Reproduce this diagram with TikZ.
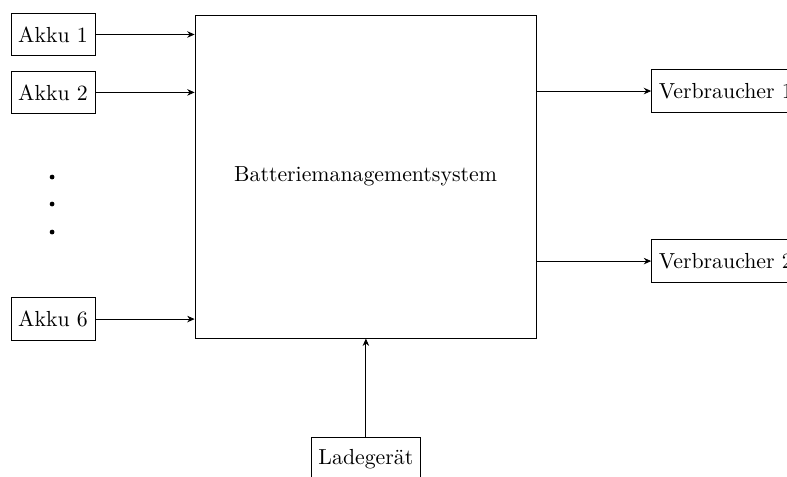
\documentclass[tikz,border=0pt]{standalone}
\usepackage{tikz}
\usetikzlibrary{arrows.meta, positioning}
\definecolor{diagInk}{RGB}{0,0,0}
\tikzset{
  % plain rectangular box, as used for batteries, loads and charger
  box/.style={
    draw=diagInk, rectangle, line width=0.4pt,
    align=center, inner sep=3.3pt,
    font=\normalsize, text=diagInk, minimum height=6.9mm
  },
  % the large central block
  core/.style={box, minimum width=55mm, minimum height=52.1mm},
  % arrows
  flow/.style={-{Stealth[length=3.4pt,width=3pt]}, draw=diagInk, line width=0.4pt},
  % the dots standing for the batteries left out
  gap/.style={fill=diagInk},
}

\begin{document}
\begin{tikzpicture}

\useasboundingbox (0,0) rectangle (12.69,-7.69);

% ============================ central block ================================
\node[core] (bms) at (5.895,-2.847) {Batteriemanagementsystem};

% ============================== batteries ==================================
\node[box] (akku1) at (0.855,-0.556) {Akku 1};
\node[box, below=2.3mm of akku1] (akku2) {Akku 2};
\node[box] (akku6) at (0.855,-5.145) {Akku 6};

\foreach \y in {-2.855,-3.29,-3.742}
  \fill[gap] (0.84,\y) circle (1.1pt);

\draw[flow] (akku1) -- (akku1 -| bms.west);
\draw[flow] (akku2) -- (akku2 -| bms.west);
\draw[flow] (akku6) -- (akku6 -| bms.west);

% =============================== loads =====================================
\node[box, anchor=west] (verb1) at (10.5,-1.468) {Verbraucher 1};
\node[box, anchor=west] (verb2) at (10.5,-4.21)  {Verbraucher 2};

\draw[flow] (bms.east |- verb1) -- (verb1);
\draw[flow] (bms.east |- verb2) -- (verb2);

% ============================== charger ====================================
\node[box, anchor=north] (lader) at (5.9,-7.05) {Ladegerät};

\draw[flow] (lader) -- (lader |- bms.south);

\end{tikzpicture}
\end{document}
